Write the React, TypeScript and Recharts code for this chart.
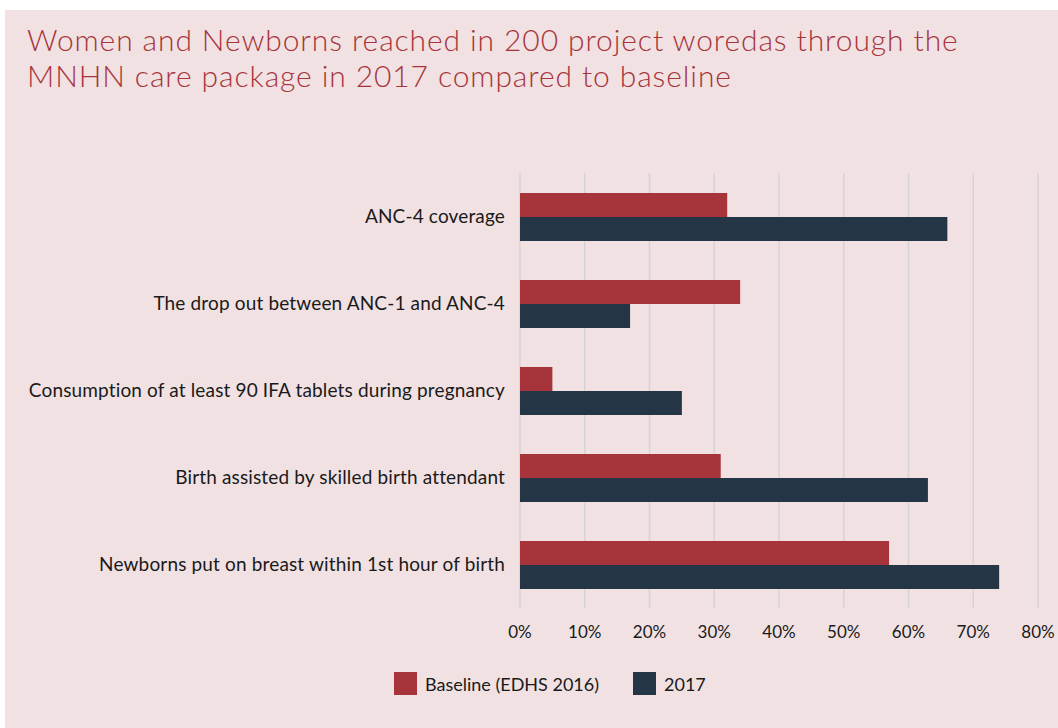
import React from "react";
import { BarChart, Bar, XAxis, YAxis, CartesianGrid } from "recharts";

const categories = [
  "ANC-4 coverage",
  "The drop out between ANC-1 and ANC-4",
  "Consumption of at least 90 IFA tablets during pregnancy",
  "Birth assisted by skilled birth attendant",
  "Newborns put on breast within 1st hour of birth",
];
const baselineValues = [32, 34, 5, 31, 57];
const values2017 = [66, 17, 25, 63, 74];
const xTicks = [0, 10, 20, 30, 40, 50, 60, 70, 80];
const seriesNames = ["Baseline (EDHS 2016)", "2017"];
const title = [
  "Women and Newborns reached in 200 project woredas through the",
  "MNHN care package in 2017 compared to baseline",
];

const RED = "#a7343a";
const DARK = "#243645";
const BG = "#f1e1e2";
const FONT = "Lato, 'Open Sans', sans-serif";

const data = categories.map((c, i) => ({
  name: c,
  baseline: baselineValues[i],
  y2017: values2017[i],
}));

export default function App() {
  return (
    <div
      style={{
        position: "absolute",
        left: 5,
        top: 10,
        width: 1053,
        height: 718,
        background: BG,
        fontFamily: FONT,
        overflow: "hidden",
      }}
    >
      <div
        style={{
          position: "absolute",
          left: 22,
          top: 11,
          fontSize: 30,
          lineHeight: "36px",
          fontWeight: 300,
          letterSpacing: 0.9,
          color: RED,
          whiteSpace: "nowrap",
        }}
      >
        {title.map((t, i) => (
          <div key={i}>{t}</div>
        ))}
      </div>
      <div style={{ position: "absolute", left: 0, top: 0 }}>
        <BarChart
          width={1053}
          height={718}
          data={data}
          layout="vertical"
          margin={{ top: 163, right: 20, bottom: 90, left: 0 }}
          barGap={0}
          barSize={24}
        >
          <CartesianGrid
            horizontal={false}
            stroke="#d8d3d3"
            strokeWidth={1.5}
          />
          <XAxis
            type="number"
            domain={[0, 80]}
            ticks={xTicks}
            tickFormatter={(v) => `${v}%`}
            axisLine={false}
            tickLine={false}
            tickSize={0}
            tickMargin={18}
            height={30}
            interval={0}
            tick={{ fill: "#1a1a1a", fontSize: 17, fontFamily: FONT }}
          />
          <YAxis
            type="category"
            dataKey="name"
            width={515}
            axisLine={false}
            tickLine={false}
            tickSize={0}
            tickMargin={15}
            interval={0}
            tick={{ fill: "#1a1a1a", fontSize: 19, fontFamily: FONT, letterSpacing: 0.15 }}
          />
          <Bar dataKey="baseline" name={seriesNames[0]} fill={RED} isAnimationActive={false} />
          <Bar dataKey="y2017" name={seriesNames[1]} fill={DARK} isAnimationActive={false} />
        </BarChart>
      </div>
      <div
        style={{
          position: "absolute",
          left: 389,
          top: 662,
          display: "flex",
          alignItems: "center",
          fontSize: 18,
          color: "#1a1a1a",
        }}
      >
        {seriesNames.map((n, i) => (
          <div
            key={n}
            style={{ display: "flex", alignItems: "center", marginRight: i === 0 ? 34 : 0 }}
          >
            <div
              style={{
                width: 23,
                height: 23,
                background: i === 0 ? RED : DARK,
                marginRight: 8,
              }}
            />
            <span>{n}</span>
          </div>
        ))}
      </div>
    </div>
  );
}
